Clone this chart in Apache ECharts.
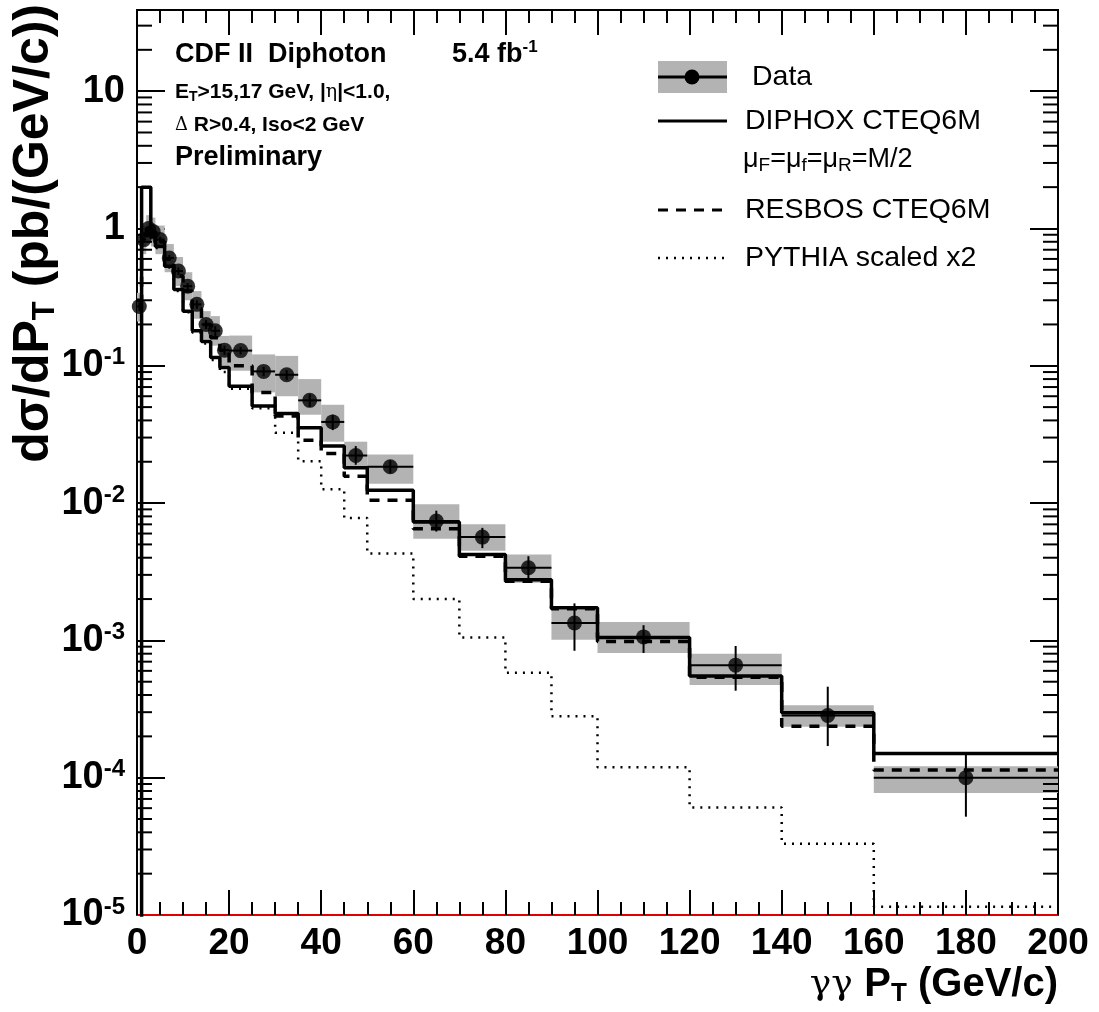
<!DOCTYPE html>
<html>
<head>
<meta charset="utf-8">
<title>CDF II Diphoton pT</title>
<style>
  html, body { margin: 0; padding: 0; background: #fff; }
  #main { width: 1099px; height: 1012px; }
</style>
</head>
<body>
<div id="main"></div>
<script src="https://cdn.jsdelivr.net/npm/echarts@6/dist/echarts.min.js"></script>
<script>
// pT bins (GeV/c)
var binLo = [0, 1, 2, 3, 4, 6, 8, 10, 12, 14, 16, 18, 20, 25, 30, 35, 40, 45, 50, 60, 70, 80, 90, 100, 120, 140, 160];
var binHi = [1, 2, 3, 4, 6, 8, 10, 12, 14, 16, 18, 20, 25, 30, 35, 40, 45, 50, 60, 70, 80, 90, 100, 120, 140, 160, 200];

// measured d(sigma)/dPT (pb/(GeV/c))
var dataVal = [0.27, 0.83, 1.0, 0.95, 0.83, 0.61, 0.49, 0.38, 0.28, 0.20, 0.18, 0.13, 0.129, 0.091, 0.086, 0.056, 0.039, 0.0222, 0.0184, 0.0074, 0.00565, 0.00338, 0.00134, 0.00106, 0.00066, 0.000284, 0.0001];
// statistical error bar ends
var statLo = [0.25, 0.79, 0.96, 0.91, 0.79, 0.58, 0.46, 0.36, 0.26, 0.185, 0.165, 0.12, 0.121, 0.084, 0.079, 0.050, 0.034, 0.019, 0.0165, 0.0062, 0.0047, 0.0028, 0.00084, 0.00081, 0.00043, 0.00017, 0.000052];
var statHi = [0.29, 0.87, 1.04, 0.99, 0.87, 0.64, 0.52, 0.40, 0.30, 0.215, 0.195, 0.14, 0.137, 0.098, 0.093, 0.062, 0.044, 0.026, 0.0205, 0.0088, 0.0066, 0.0041, 0.00186, 0.00129, 0.00091, 0.00046, 0.00015];
// total uncertainty band ends (grey boxes)
var sysLo = [0.21, 0.65, 0.78, 0.74, 0.65, 0.48, 0.38, 0.30, 0.22, 0.155, 0.14, 0.10, 0.092, 0.064, 0.060, 0.044, 0.028, 0.0185, 0.0138, 0.0055, 0.0045, 0.00263, 0.00101, 0.00081, 0.000473, 0.000235, 0.0000775];
var sysHi = [0.34, 1.05, 1.25, 1.2, 1.05, 0.77, 0.62, 0.48, 0.35, 0.25, 0.23, 0.165, 0.166, 0.121, 0.118, 0.080, 0.052, 0.028, 0.0226, 0.0098, 0.0070, 0.00423, 0.00168, 0.00136, 0.000798, 0.000337, 0.000121];

// theory predictions per bin
var diphox = [1e-6, 2.0, 2.0, 0.88, 0.74, 0.53, 0.36, 0.25, 0.18, 0.15, 0.115, 0.097, 0.071, 0.051, 0.045, 0.0353, 0.026, 0.0181, 0.0124, 0.00727, 0.00422, 0.00277, 0.00173, 0.00105, 0.00055, 0.000297, 0.00015];
var resbos = [0.3, 0.85, 1.0, 0.95, 0.8, 0.6, 0.45, 0.35, 0.26, 0.2, 0.16, 0.13, 0.1, 0.064, 0.043, 0.0287, 0.023, 0.0157, 0.0105, 0.0065, 0.0041, 0.0027, 0.0017, 0.00098, 0.00054, 0.000237, 0.000114];
var pythia = [0.3, 0.9, 0.95, 0.85, 0.72, 0.52, 0.35, 0.245, 0.175, 0.145, 0.11, 0.09, 0.068, 0.049, 0.0325, 0.0202, 0.0126, 0.0078, 0.0043, 0.002, 0.00105, 0.00058, 0.00028, 0.000119, 0.0000607, 0.000033, 0.0000115];

// log minor ticks: mantissas and decades
var minorMant = [2, 3, 4, 5, 6, 7, 8, 9];
var decades = [1e-5, 1e-4, 1e-3, 1e-2, 1e-1, 1, 10];

var yMin = 1e-5, yMax = 39;
var FONT = 'Liberation Sans';

// histogram as step line points
function histPoints(vals) {
  var pts = [];
  for (var i = 0; i < binLo.length; i++) pts.push([binLo[i], vals[i]]);
  pts.push([binHi[binHi.length - 1], vals[vals.length - 1]]);
  return pts;
}

var boxData = [], errData = [], dotData = [];
for (var i = 0; i < binLo.length; i++) {
  boxData.push([binLo[i], binHi[i], dataVal[i], sysLo[i], sysHi[i]]);
  errData.push([binLo[i], binHi[i], dataVal[i], statLo[i], statHi[i]]);
  dotData.push([(binLo[i] + binHi[i]) / 2, dataVal[i]]);
}
var minorData = [];
decades.forEach(function (d) {
  minorMant.forEach(function (m) {
    if (m * d < yMax) minorData.push([0, m * d]);
  });
});

function logLabel(v) {
  var l = Math.log10(v);
  var e = Math.round(l);
  if (Math.abs(l - e) > 0.01) return '';
  if (e === 0) return '{b|1}';
  if (e === 1) return '{b|10}';
  return '{b|10}{s|' + e + '}';
}

var myChart = echarts.init(document.getElementById('main'));

var xBase = {
  type: 'value', min: 0, max: 200, interval: 20,
  axisLine: { show: true, onZero: false, lineStyle: { color: '#000', width: 2 } },
  axisTick: { show: true, inside: true, length: 25, lineStyle: { color: '#000', width: 2 } },
  minorTick: { show: true, splitNumber: 4, length: 13, lineStyle: { color: '#000', width: 2 } },
  splitLine: { show: false }
};
var yBase = {
  type: 'log', logBase: 10, min: yMin, max: yMax,
  axisLine: { show: true, onZero: false, lineStyle: { color: '#000', width: 2 } },
  axisTick: { show: true, inside: true, length: 28, lineStyle: { color: '#000', width: 2 } },
  splitLine: { show: false }
};

var option = {
  animation: false,
  backgroundColor: '#fff',
  grid: { left: 137, right: 41, top: 10, bottom: 97, show: true, borderColor: '#000', borderWidth: 2, backgroundColor: '#fff' },
  xAxis: [
    echarts.util.merge({
      position: 'bottom', z: 3,
      axisLine: { lineStyle: { color: '#e00000', width: 2 } },
      axisLabel: { margin: 10, color: '#000', fontFamily: FONT, fontWeight: 'bold', fontSize: 37 }
    }, xBase),
    echarts.util.merge({ position: 'top', axisLabel: { show: false } }, xBase)
  ],
  yAxis: [
    echarts.util.merge({
      position: 'left',
      axisLabel: {
        margin: 12, formatter: logLabel,
        rich: {
          b: { fontFamily: FONT, fontWeight: 'bold', fontSize: 38, lineHeight: 40, color: '#000' },
          s: { fontFamily: FONT, fontWeight: 'bold', fontSize: 24, lineHeight: 22, verticalAlign: 'top', color: '#000' }
        }
      }
    }, yBase),
    echarts.util.merge({ position: 'right', axisLabel: { show: false } }, yBase)
  ],
  series: [
    {
      name: 'band', type: 'custom', z: 1, data: boxData,
      encode: { x: [0, 1], y: [2, 3, 4] },
      renderItem: function (params, api) {
        var p1 = api.coord([api.value(0), api.value(4)]);
        var p2 = api.coord([api.value(1), api.value(3)]);
        return { type: 'rect', shape: { x: p1[0], y: p1[1], width: p2[0] - p1[0], height: p2[1] - p1[1] }, style: { fill: '#b3b3b3' } };
      }
    },
    {
      name: 'PYTHIA scaled x2', type: 'line', z: 2, step: 'end', symbol: 'none', clip: true,
      data: histPoints(pythia), lineStyle: { color: '#000', width: 2.5, type: [2, 6] }
    },
    {
      name: 'RESBOS CTEQ6M', type: 'line', z: 3, step: 'end', symbol: 'none', clip: true,
      data: histPoints(resbos), lineStyle: { color: '#000', width: 3.5, type: [10, 8] }
    },
    {
      name: 'DIPHOX CTEQ6M', type: 'line', z: 4, step: 'end', symbol: 'none', clip: true,
      data: histPoints(diphox), lineStyle: { color: '#000', width: 3.5 }
    },
    {
      name: 'err', type: 'custom', z: 5, data: errData,
      encode: { x: [0, 1], y: [2, 3, 4] },
      renderItem: function (params, api) {
        var a = api.coord([api.value(0), api.value(2)]);
        var b = api.coord([api.value(1), api.value(2)]);
        var mid = (api.value(0) + api.value(1)) / 2;
        var c = api.coord([mid, api.value(3)]);
        var d = api.coord([mid, api.value(4)]);
        return {
          type: 'group', children: [
            { type: 'line', shape: { x1: a[0], y1: a[1], x2: b[0], y2: b[1] }, style: { stroke: '#000', lineWidth: 2 } },
            { type: 'line', shape: { x1: c[0], y1: c[1], x2: d[0], y2: d[1] }, style: { stroke: '#000', lineWidth: 2 } }
          ]
        };
      }
    },
    {
      name: 'Data', type: 'scatter', z: 6, data: dotData, symbol: 'circle', symbolSize: 15,
      itemStyle: { color: '#000' }
    },
    {
      name: 'minor', type: 'custom', z: 3, data: minorData, silent: true,
      renderItem: function (params, api) {
        var p = api.coord([0, api.value(1)]);
        var q = api.coord([200, api.value(1)]);
        return {
          type: 'group', children: [
            { type: 'line', shape: { x1: p[0], y1: p[1], x2: p[0] + 15, y2: p[1] }, style: { stroke: '#000', lineWidth: 2 } },
            { type: 'line', shape: { x1: q[0] - 15, y1: q[1], x2: q[0], y2: q[1] }, style: { stroke: '#000', lineWidth: 2 } }
          ]
        };
      }
    }
  ],
  graphic: [
    // axis titles
    {
      type: 'text', x: 34, y: 4, rotation: Math.PI / 2, z: 10,
      style: {
        text: '{b|d\u03c3/dP}{sub|T}{b| (pb/(GeV/c))}', align: 'right', verticalAlign: 'middle',
        rich: {
          b: { fontFamily: FONT, fontWeight: 'bold', fontSize: 50, lineHeight: 54, fill: '#000' },
          sub: { fontFamily: FONT, fontWeight: 'bold', fontSize: 31, lineHeight: 31, verticalAlign: 'bottom', fill: '#000' }
        }
      }
    },
    {
      type: 'text', x: 1058, y: 985, z: 10,
      style: {
        text: '{g|\u03b3\u03b3 }{b|P}{sub|T}{b| (GeV/c)}', align: 'right', verticalAlign: 'middle',
        rich: {
          g: { fontFamily: 'DejaVu Serif', fontSize: 36, lineHeight: 44, fill: '#000' },
          b: { fontFamily: FONT, fontWeight: 'bold', fontSize: 40, lineHeight: 44, fill: '#000' },
          sub: { fontFamily: FONT, fontWeight: 'bold', fontSize: 26, lineHeight: 26, verticalAlign: 'bottom', fill: '#000' }
        }
      }
    },
    // top-left labels
    {
      type: 'text', x: 175, y: 55, z: 10,
      style: { text: 'CDF II  Diphoton', fontFamily: FONT, fontWeight: 'bold', fontSize: 27, fill: '#000', verticalAlign: 'middle' }
    },
    {
      type: 'text', x: 452, y: 55, z: 10,
      style: {
        text: '{b|5.4 fb}{s|-1}', verticalAlign: 'middle',
        rich: {
          b: { fontFamily: FONT, fontWeight: 'bold', fontSize: 27, lineHeight: 32, fill: '#000' },
          s: { fontFamily: FONT, fontWeight: 'bold', fontSize: 17, lineHeight: 17, verticalAlign: 'top', fill: '#000' }
        }
      }
    },
    {
      type: 'text', x: 175, y: 92, z: 10,
      style: {
        text: '{b|E}{sub|T}{b|>15,17 GeV, |}{g|\u03b7}{b||<1.0,}', verticalAlign: 'middle',
        rich: {
          b: { fontFamily: FONT, fontWeight: 'bold', fontSize: 21, lineHeight: 24, fill: '#000' },
          g: { fontFamily: 'DejaVu Serif', fontSize: 19, lineHeight: 24, fill: '#000' },
          sub: { fontFamily: FONT, fontWeight: 'bold', fontSize: 14, lineHeight: 14, verticalAlign: 'bottom', fill: '#000' }
        }
      }
    },
    {
      type: 'text', x: 175, y: 125, z: 10,
      style: {
        text: '{g|\u0394}{b| R>0.4, Iso<2 GeV}', verticalAlign: 'middle',
        rich: {
          b: { fontFamily: FONT, fontWeight: 'bold', fontSize: 21, lineHeight: 24, fill: '#000' },
          g: { fontFamily: 'DejaVu Serif', fontSize: 18, lineHeight: 24, fill: '#000' }
        }
      }
    },
    {
      type: 'text', x: 175, y: 158, z: 10,
      style: { text: 'Preliminary', fontFamily: FONT, fontWeight: 'bold', fontSize: 27, fill: '#000', verticalAlign: 'middle' }
    },
    // legend
    { type: 'rect', z: 10, shape: { x: 658, y: 61, width: 69, height: 32 }, style: { fill: '#b3b3b3' } },
    { type: 'line', z: 11, shape: { x1: 658, y1: 77, x2: 727, y2: 77 }, style: { stroke: '#000', lineWidth: 3 } },
    { type: 'circle', z: 12, shape: { cx: 692, cy: 77, r: 7.5 }, style: { fill: '#000' } },
    { type: 'line', z: 11, shape: { x1: 658, y1: 121, x2: 727, y2: 121 }, style: { stroke: '#000', lineWidth: 3 } },
    { type: 'line', z: 11, shape: { x1: 658, y1: 210, x2: 727, y2: 210 }, style: { stroke: '#000', lineWidth: 3, lineDash: [10, 8] } },
    { type: 'line', z: 11, shape: { x1: 658, y1: 258, x2: 727, y2: 258 }, style: { stroke: '#000', lineWidth: 2.5, lineDash: [2, 6] } },
    {
      type: 'text', x: 752, y: 77, z: 10,
      style: { text: 'Data', fontFamily: FONT, fontSize: 28.5, fill: '#000', verticalAlign: 'middle' }
    },
    {
      type: 'text', x: 745, y: 121, z: 10,
      style: { text: 'DIPHOX CTEQ6M', fontFamily: FONT, fontSize: 28.5, fill: '#000', verticalAlign: 'middle' }
    },
    {
      type: 'text', x: 743, y: 160, z: 10,
      style: {
        text: '{b|\u03bc}{sub|F}{b|=\u03bc}{sub|f}{b|=\u03bc}{sub|R}{b|=M/2}', verticalAlign: 'middle',
        rich: {
          b: { fontFamily: FONT, fontSize: 27, lineHeight: 30, fill: '#000' },
          sub: { fontFamily: FONT, fontSize: 19, lineHeight: 19, verticalAlign: 'bottom', fill: '#000' }
        }
      }
    },
    {
      type: 'text', x: 745, y: 210, z: 10,
      style: { text: 'RESBOS CTEQ6M', fontFamily: FONT, fontSize: 28.5, fill: '#000', verticalAlign: 'middle' }
    },
    {
      type: 'text', x: 745, y: 258, z: 10,
      style: { text: 'PYTHIA scaled x2', fontFamily: FONT, fontSize: 28.5, fill: '#000', verticalAlign: 'middle' }
    }
  ]
};

myChart.setOption(option);
</script>
</body>
</html>
